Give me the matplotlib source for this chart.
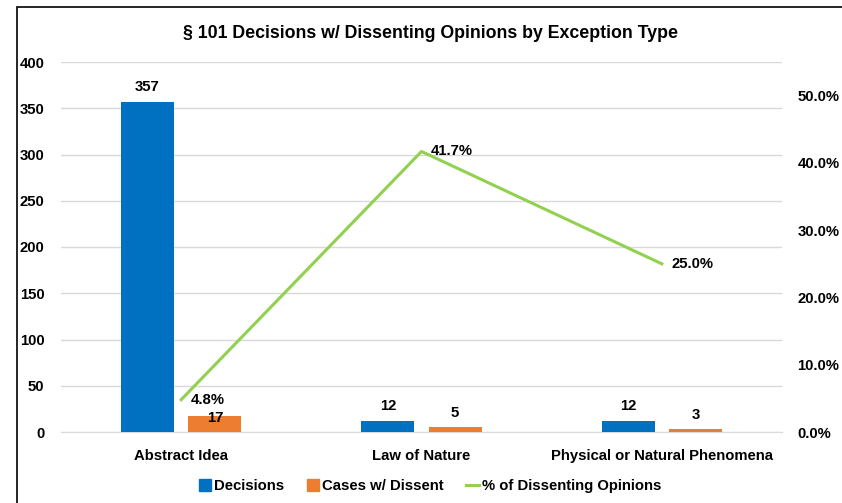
import matplotlib
matplotlib.use("Agg")
import matplotlib.pyplot as plt
import numpy as np
from matplotlib.patches import Rectangle
from matplotlib.lines import Line2D
from matplotlib import font_manager

names = {f.name for f in font_manager.fontManager.ttflist}
preferred = ["Liberation Sans Narrow", "Liberation Sans", "DejaVu Sans"]
plt.rcParams["font.family"] = [n for n in preferred if n in names] or ["DejaVu Sans"]
plt.rcParams["font.weight"] = "bold"

categories = ["Abstract Idea", "Law of Nature", "Physical or Natural Phenomena"]
decisions = [357, 12, 12]
dissent = [17, 5, 3]
pct_dissent = [0.048, 0.417, 0.25]

blue = "#0070C0"
orange = "#ED7D31"
green = "#92D050"
FS = 10.7

fig = plt.figure(figsize=(8.42, 5.03), dpi=100)
ax = fig.add_axes([61 / 842, 1 - 432 / 503, 721 / 842, 370 / 503])
ax2 = ax.twinx()

x = np.arange(len(categories))
w = 0.22
off = 0.14
ax.bar(x - off, decisions, w, color=blue, zorder=3)
ax.bar(x + off, dissent, w, color=orange, zorder=3)

# value labels above bars (offset in points); the first orange label sits lower
# to leave room for the percentage label above it
dec_offsets = [10.5, 10.5, 10.5]
dis_offsets = [-1.5, 10.5, 10.5]
for xi, v, o in zip(x, decisions, dec_offsets):
    ax.annotate(f"{v}", (xi - off, v), xytext=(0, o), textcoords="offset points",
                ha="center", va="center", fontsize=FS, fontweight="bold", zorder=5)
for xi, v, o in zip(x, dissent, dis_offsets):
    ax.annotate(f"{v}", (xi + off, v), xytext=(0, o), textcoords="offset points",
                ha="center", va="center", fontsize=FS, fontweight="bold", zorder=5)

ax.set_xlim(-0.5, 2.5)
ax.set_ylim(0, 400)
ax.set_yticks(range(0, 401, 50))
ax.grid(axis="y", color="#D9D9D9", linewidth=1, zorder=0)
ax.set_axisbelow(True)
ax.set_xticks(x)
ax.set_xticklabels(categories, fontsize=FS, fontweight="bold")
ax.tick_params(axis="both", length=0, labelsize=FS)
ax.tick_params(axis="x", pad=12)
ax.tick_params(axis="y", pad=12)
for s in ["top", "right", "left"]:
    ax.spines[s].set_visible(False)
ax.spines["bottom"].set_color("#D9D9D9")
for s in ax2.spines.values():
    s.set_visible(False)

ax2.plot(x, pct_dissent, color=green, linewidth=2.2, zorder=4)
for xi, p in zip(x, pct_dissent):
    ax2.annotate(f"{p * 100:.1f}%", (xi, p), xytext=(7, 0), textcoords="offset points",
                 ha="left", va="center", fontsize=FS, fontweight="bold")
ax2.set_ylim(0, 0.55)
ticks2 = np.arange(0, 0.51, 0.1)
ax2.set_yticks(ticks2)
ax2.set_yticklabels([f"{t * 100:.1f}%" for t in ticks2])
ax2.tick_params(axis="y", length=0, labelsize=FS, pad=11)

for lab in ax.get_yticklabels() + ax2.get_yticklabels() + ax.get_xticklabels():
    lab.set_fontweight("bold")

fig.text(430 / 842, 1 - 33 / 503, "§ 101 Decisions w/ Dissenting Opinions by Exception Type",
         ha="center", va="center", fontsize=12.8, fontweight="bold")

handles = [
    Rectangle((0, 0), 1, 1, color=blue),
    Rectangle((0, 0), 1, 1, color=orange),
    Line2D([0], [0], color=green, linewidth=2.2),
]
fig.legend(handles, ["Decisions", "Cases w/ Dissent", "% of Dissenting Opinions"],
           loc="center", bbox_to_anchor=(430 / 842, 1 - 486 / 503), ncol=3, frameon=False,
           handlelength=0.85, handleheight=0.85, handletextpad=0.2, columnspacing=1.5,
           prop={"weight": "bold", "size": FS})

fig.add_artist(Rectangle((17 / 842, -0.1), 1.2, 1 - 7 / 503 + 0.1, transform=fig.transFigure,
                         fill=False, edgecolor="black", linewidth=1.2))

fig.savefig("out.png", dpi=100)
